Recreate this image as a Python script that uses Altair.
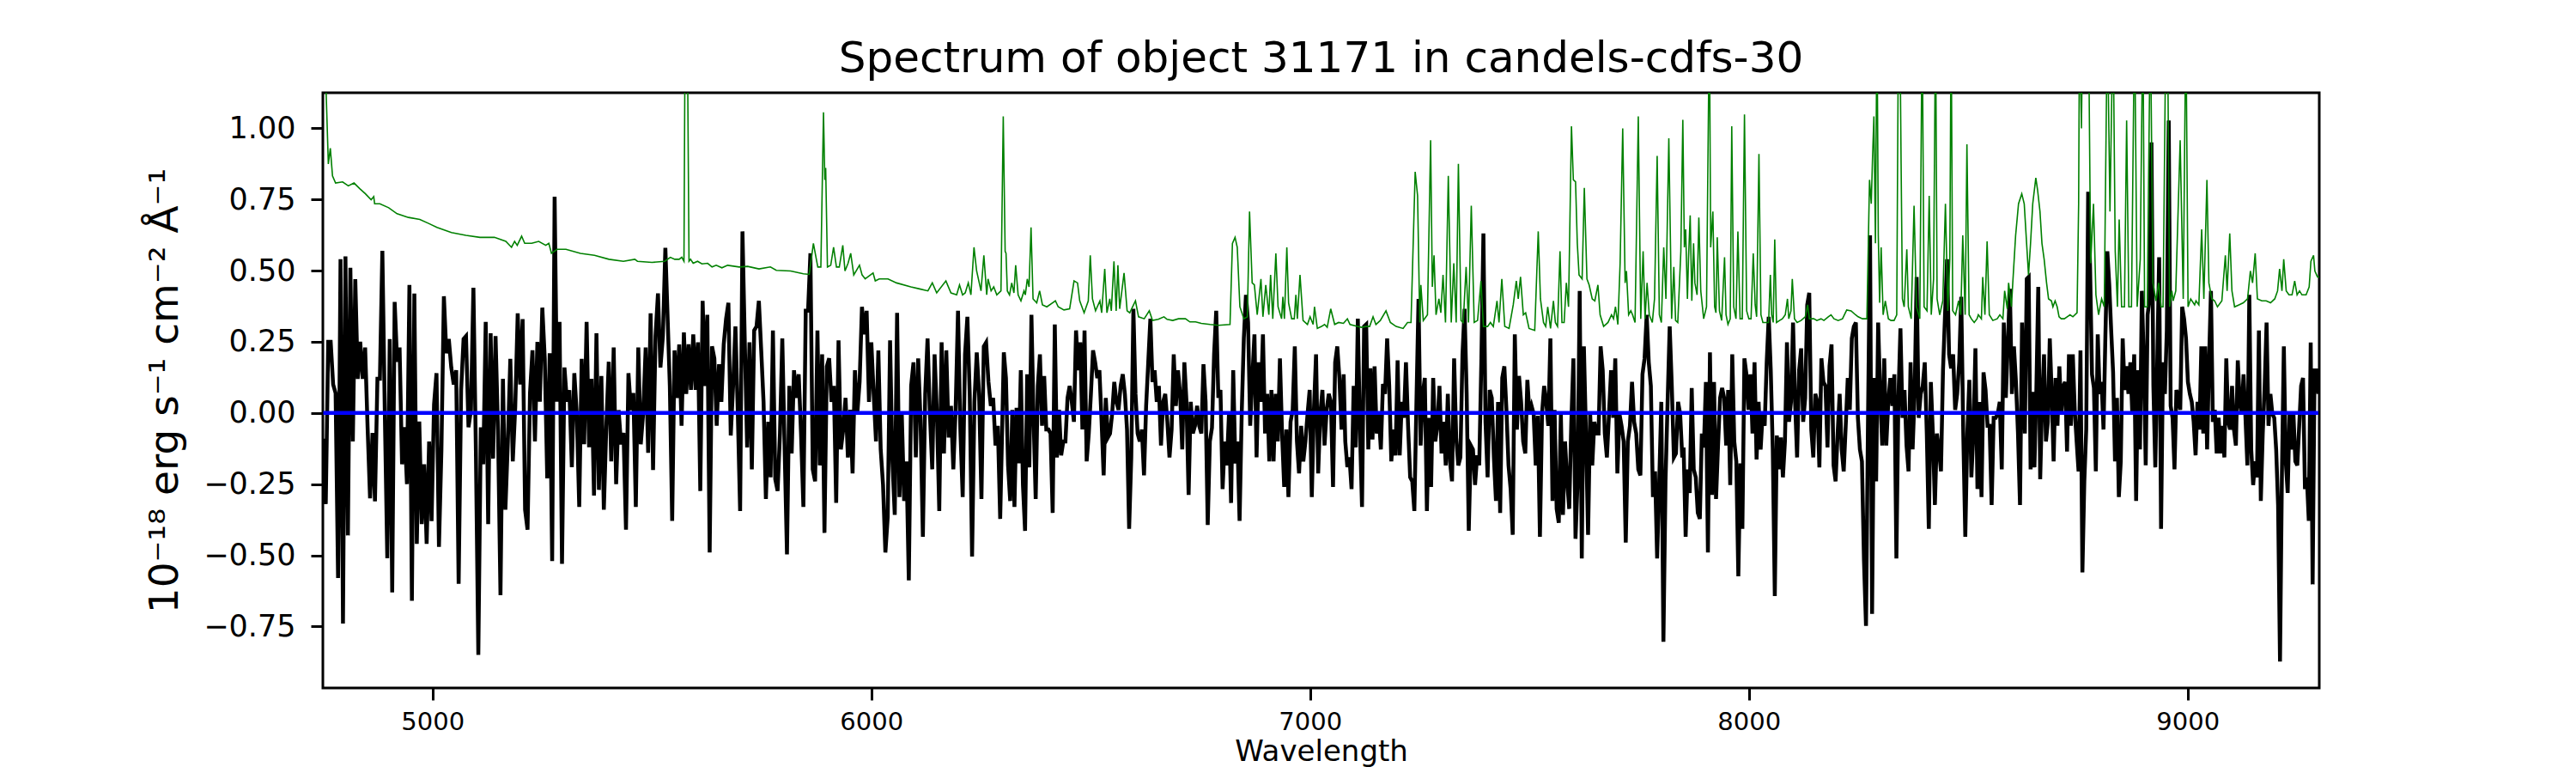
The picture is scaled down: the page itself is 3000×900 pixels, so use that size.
import altair as alt
import pandas as pd
import numpy as np

TITLE = "Spectrum of object 31171 in candels-cdfs-30"
X_LABEL = "Wavelength"
Y_LABEL = "10⁻¹⁸ erg s⁻¹ cm⁻² Å⁻¹"
X_TICKS = [5000, 6000, 7000, 8000, 9000]
Y_TICKS = [-0.75, -0.5, -0.25, 0.0, 0.25, 0.5, 0.75, 1.0]
X_DOMAIN = [4750, 9300]
Y_DOMAIN = [-0.966, 1.125]

# observed flux, read in six wavelength stretches (start, end in Angstrom)
flux_seg_ranges = [(4751, 5530.6), (5540.8, 6293.7), (6302, 7076.5),
                   (7080.2, 7848.2), (7851.3, 8622.6), (8629, 9298)]

flux_seg1 = [-0.09, -0.32, 0.25, 0.25, 0.10, 0.07, -0.58, 0.54, -0.74, 0.55, -0.43, 0.51, -0.10, 0.47, 0.12,
             0.25, 0.12, 0.23, -0.05, -0.30, -0.07, -0.31, 0.12, 0.12, 0.57, 0.00, -0.51, 0.26, -0.63, 0.39,
             0.18, 0.23, -0.18, -0.05, -0.25, 0.45, -0.66, 0.42, -0.46, -0.03, -0.39, -0.18, -0.46, -0.10,
             -0.38, 0.03, 0.14, -0.47, -0.13, 0.41, 0.21, 0.26, 0.16, 0.10, 0.15, -0.60, 0.08, 0.26, 0.27,
             -0.05, 0.01, 0.44, -0.13, -0.85, -0.05, -0.18, 0.32, -0.39, 0.28, -0.16, 0.27, -0.06, -0.64,
             0.12, -0.34, -0.10, 0.19, -0.17, 0.02, 0.35, 0.10, 0.33, -0.34, -0.41, 0.07, 0.22, -0.10, 0.25,
             0.04, 0.37, 0.19, -0.23, 0.21, -0.52, 0.76, 0.04, 0.32, -0.53, 0.16, 0.04, 0.08, -0.19, 0.14,
             0.00, -0.33, 0.19, -0.11, 0.32, -0.12, 0.12, -0.29, 0.28, -0.27, 0.13, -0.34, -0.05, 0.18,
             -0.17, 0.23, -0.25, 0.01, -0.11, -0.07, -0.41, 0.14, 0.01, 0.07, -0.33, 0.23, -0.11, 0.00, 0.23,
             -0.14, 0.35, -0.20, 0.27, 0.42, 0.16, 0.27, 0.58]

flux_seg2 = [0.095, -0.379, 0.22, 0.053, 0.241, -0.045, 0.283, 0.067, 0.241, 0.081, 0.276, 0.081, 0.248,
             -0.274, 0.394, 0.095, 0.345, -0.49, 0.234, 0.192, -0.045, 0.171, 0.039, 0.241, 0.331, 0.387,
             -0.079, 0.095, 0.304, 0.004, -0.344, 0.638, 0.248, -0.121, 0.248, -0.198, 0.29, 0.304, 0.394,
             0.22, 0.039, -0.302, -0.031, -0.226, 0.29, -0.233, -0.274, -0.072, 0.262, -0.128, -0.497, 0.095,
             -0.142, 0.15, 0.053, 0.136, -0.072, -0.33, 0.359, 0.359, 0.561, -0.198, -0.24, 0.29, -0.184,
             0.206, -0.421, 0.164, 0.192, 0.039, 0.095, -0.316, 0.255, -0.128, -0.058, 0.053, -0.156, 0.011,
             -0.212, 0.15, -0.003, 0.109, 0.373, 0.276, 0.359, 0.039, 0.248, 0.067, -0.1, 0.22, -0.128,
             -0.253, -0.49, -0.365, 0.255, -0.17, -0.358, 0.352, -0.295, -0.003, -0.309, -0.17, -0.588,
             0.095, 0.178, -0.156, 0.192, -0.024, -0.435, 0.067, 0.262, -0.003, -0.198, 0.206, -0.003,
             -0.344, 0.248, -0.142, 0.22, -0.086, 0.025, -0.198, 0.018, 0.359, -0.058, -0.295, 0.206, 0.338,
             0.067, -0.504, 0.039, 0.213, 0.067, -0.302, 0.234, 0.248, 0.109, 0.025, 0.053, -0.114, -0.045,
             -0.372]

flux_seg3 = [0.213, 0.123, -0.184, -0.309, 0.011, -0.33, 0.018, -0.177, 0.15, -0.253, -0.414, 0.136, -0.191,
             0.345, -0.017, -0.302, 0.095, 0.206, -0.045, 0.13, -0.058, -0.058, -0.072, -0.351, 0.311, -0.156,
             0.011, -0.149, -0.1, -0.1, 0.053, 0.095, 0.039, -0.031, 0.29, 0.15, 0.248, -0.058, 0.29, -0.17,
             -0.072, 0.067, 0.22, 0.178, 0.123, 0.15, -0.024, -0.219, 0.053, -0.086, -0.072, -0.003, 0.109,
             0.039, 0.011, 0.095, 0.136, 0.067, -0.058, -0.407, -0.156, 0.366, 0.067, -0.072, -0.1, -0.058,
             -0.219, 0.025, 0.178, 0.331, 0.109, 0.15, 0.039, 0.095, -0.114, 0.039, 0.067, -0.031, -0.156,
             -0.058, 0.206, 0.025, 0.15, 0.067, -0.128, 0.178, 0.039, -0.288, 0.039, -0.072, -0.045, 0.025,
             -0.045, -0.072, 0.171, 0.039, -0.393, -0.1, -0.052, 0.206, 0.359, 0.053, 0.081, -0.267, -0.1,
             -0.184, -0.003, -0.316, 0.15, -0.177, -0.1, -0.379, -0.003, 0.262, 0.415, 0.318, -0.045, 0.123,
             0.276, -0.156, 0.178, 0.039, 0.276, -0.072, 0.067, -0.17, 0.081, -0.17, 0.067, -0.1, 0.192,
             -0.072, -0.26, -0.058, -0.295, -0.031, 0.011, 0.234, -0.1, -0.212, -0.045, -0.17, -0.1, -0.003,
             0.081, -0.295, 0.011, 0.206, -0.212, -0.003, 0.081, -0.114, 0.011, 0.067, 0.039, -0.26, 0.178,
             0.234, 0.123, -0.058, 0.136]

flux_seg4 = [-0.10, -0.19, -0.156, -0.267, 0.095, -0.121, 0.331, -0.058, -0.33, 0.304, 0.311, -0.128, 0.157,
             -0.093, 0.164, -0.072, -0.003, -0.128, 0.102, 0.067, 0.262, 0.095, -0.17, -0.058, -0.149, 0.185,
             -0.149, 0.039, -0.017, 0.178, -0.045, -0.226, -0.24, -0.344, 0.039, 0.401, -0.114, 0.067, 0.123,
             -0.344, -0.017, -0.26, 0.123, -0.1, -0.045, 0.095, -0.142, -0.031, -0.184, 0.067, -0.17, -0.24,
             0.192, -0.086, -0.184, -0.156, 0.206, 0.366, 0.067, -0.414, -0.114, -0.128, -0.253, -0.149,
             -0.184, 0.178, 0.631, -0.031, -0.226, 0.081, 0.053, -0.156, -0.309, 0.039, -0.351, 0.123, 0.164,
             0.011, -0.184, -0.267, -0.428, 0.276, -0.058, 0.13, 0.039, -0.1, -0.142, 0.116, -0.003, 0.025,
             -0.003, -0.184, -0.01, -0.435, -0.003, 0.095, 0.039, -0.045, 0.262, -0.309, 0.011, -0.337,
             -0.386, -0.003, -0.358, -0.1, -0.24, -0.337, -0.031, 0.192, -0.442, -0.24, 0.429, -0.511, 0.234,
             -0.072, -0.428, -0.003, -0.184, -0.031, -0.072, -0.072, 0.234, 0.15, -0.072, -0.156, -0.003,
             0.15, -0.017, 0.192, -0.212, -0.003, -0.045, -0.1, -0.455, -0.1, -0.045, 0.109, -0.031, -0.072,
             -0.198, -0.219, 0.136, 0.192, 0.345, 0.178, 0.095, -0.295, -0.205, -0.511, -0.24, 0.039, -0.804,
             -0.24, 0.039, 0.304, 0.095, -0.156, -0.142, 0.039, -0.003, -0.156]

flux_seg5 = [-0.121, -0.435, -0.198, -0.281, 0.088, -0.198, -0.226, -0.351, -0.372, -0.072, -0.121, 0.109,
             -0.49, 0.213, -0.288, 0.109, -0.302, -0.114, 0.053, 0.088, 0.053, -0.114, 0.081, -0.253, 0.206,
             -0.1, -0.17, -0.574, -0.177, -0.407, 0.192, 0.136, 0.011, 0.136, -0.072, 0.178, -0.163, 0.039,
             -0.128, -0.003, -0.045, 0.178, 0.338, 0.15, -0.128, -0.643, -0.079, -0.198, -0.086, -0.226,
             -0.1, 0.248, -0.031, 0.039, 0.318, 0.039, -0.156, 0.15, 0.227, -0.031, 0.053, 0.38, 0.422,
             -0.058, -0.156, 0.067, 0.039, -0.191, 0.192, 0.109, 0.095, -0.121, 0.164, 0.241, -0.184, -0.24,
             -0.072, 0.067, -0.128, -0.205, -0.045, 0.123, 0.011, 0.262, 0.304, 0.318, -0.017, -0.128, -0.17,
             -0.518, -0.748, -0.017, 0.624, -0.706, 0.123, -0.24, 0.318, 0.067, -0.114, 0.192, -0.114, 0.039,
             0.123, 0.025, 0.136, -0.511, 0.053, 0.297, -0.017, 0.081, -0.114, -0.205, 0.178, -0.128, 0.067,
             0.478, -0.017, 0.067, 0.095, 0.178, -0.072, -0.407, 0.109, -0.072, -0.323, -0.072, -0.128,
             -0.205, 0.15, 0.345, 0.54, 0.206, 0.157, 0.206, 0.011, 0.067, 0.178, 0.408, -0.072, -0.435,
             -0.072, 0.116, -0.226, -0.072, 0.227, -0.267, 0.039, -0.295, 0.143, 0.081, -0.045, -0.045,
             -0.323, -0.017, -0.017, -0.003, 0.039, -0.198, 0.318, 0.053, 0.248, 0.436, 0.067, 0.234, 0.109,
             -0.072, -0.323, 0.318]

flux_seg6 = [-0.072, 0.471, 0.478, -0.198, 0.074, -0.191, 0.081, 0.443, -0.233, 0.039, 0.206, -0.1, -0.031,
             0.262, 0.067, -0.17, 0.123, -0.045, 0.164, -0.003, 0.095, 0.109, -0.135, 0.206, -0.045, 0.206,
             0.011, -0.1, -0.205, 0.22, -0.56, -0.24, -0.058, 0.777, 0.513, 0.136, 0.088, -0.205, 0.276,
             0.067, 0.109, -0.058, 0.276, 0.568, 0.45, 0.29, 0.143, -0.17, 0.053, -0.295, -0.17, 0.262, 0.081,
             0.164, 0.067, 0.178, -0.003, 0.206, -0.309, 0.15, -0.128, 0.429, 0.178, -0.184, 0.345, 0.401,
             0.951, 0.095, -0.191, 0.178, 0.547, -0.407, 0.178, 0.067, 0.29, 1.028, 0.025, -0.017, -0.198,
             0.081, 0.053, 0.011, 0.373, 0.331, 0.262, 0.109, 0.067, 0.039, -0.031, -0.149, 0.039, -0.058,
             0.234, -0.072, 0.234, -0.128, 0.178, 0.429, -0.031, 0.011, -0.142, -0.017, -0.142, -0.045,
             -0.156, 0.192, -0.031, -0.058, 0.095, -0.058, -0.114, 0.185, 0.039, -0.003, 0.136, -0.017,
             -0.184, 0.415, -0.128, -0.253, -0.17, -0.226, 0.29, -0.309, -0.072, 0.095, 0.318, -0.045, 0.067,
             -0.003, -0.017, -0.128, -0.323, -0.873, -0.212, 0.234, -0.17, -0.281, -0.003, -0.128, -0.003,
             -0.17, -0.184, -0.045, 0.095, 0.123, -0.267, -0.226, -0.379, 0.248, -0.602, 0.15, 0.15, 0.067]

flux_segments = [flux_seg1, flux_seg2, flux_seg3, flux_seg4, flux_seg5, flux_seg6]

# model (flat at zero)
model_wave = [4751, 9298]
model_flux = [0.0, 0.0]

# error / sky spectrum (green)
err_wave = [4752, 4757, 4762.5, 4767, 4772, 4779, 4795, 4808, 4821, 4834, 4847, 4860, 4866, 4868, 4880, 4900,
            4919, 4945, 4971, 4991, 5010, 5043, 5076, 5108, 5141, 5167, 5180, 5187, 5193, 5203, 5210, 5226,
            5242, 5258, 5265, 5271, 5284, 5304, 5337, 5369, 5402, 5435, 5461, 5467, 5500, 5529,
            5542, 5552, 5562, 5568, 5573, 5576, 5580, 5584.5, 5588, 5594, 5604, 5614, 5627, 5637, 5646.5,
            5659.5, 5672.5, 5699, 5718, 5744, 5770, 5783.5, 5816, 5845, 5858.5, 5868, 5878, 5885, 5891, 5894,
            5896, 5900, 5907.5, 5914, 5920.5, 5927, 5935, 5940, 5947, 5953, 5960, 5973, 5979, 5986, 5992,
            6004, 6009, 6018, 6038, 6057.5, 6090, 6110, 6129, 6139, 6149, 6170, 6181.5, 6194.5, 6201, 6208,
            6214, 6221, 6227, 6234, 6240, 6250, 6256.5, 6263, 6266, 6273, 6279, 6286,
            6295.5, 6300.7, 6305, 6307, 6310, 6315, 6320, 6325, 6329, 6334.6, 6341, 6348, 6351, 6355.5,
            6359.5, 6364, 6368.6, 6377, 6383.6, 6390, 6400, 6413, 6419.5, 6426, 6439, 6452, 6462, 6470, 6475,
            6485, 6494.5, 6499, 6504, 6511, 6521, 6525, 6532, 6537, 6543.5, 6547, 6553, 6558, 6562, 6566,
            6576, 6583, 6589, 6602, 6609, 6622, 6633.5, 6641, 6654, 6667, 6674, 6687, 6700, 6716, 6726, 6739,
            6752, 6772, 6791, 6817.5, 6823, 6829, 6834, 6840, 6849, 6857, 6862, 6868, 6873, 6879.5, 6888,
            6892.5, 6899, 6906, 6910, 6915, 6922, 6927, 6935, 6938, 6941.5, 6947, 6951, 6958, 6964, 6967.6,
            6971, 6977, 6984, 6994, 7000, 7007, 7010, 7016.5, 7026, 7033, 7039, 7047, 7056, 7065, 7076,
            7085, 7091, 7107.6, 7117, 7127, 7135.7, 7143.5, 7150, 7160, 7173, 7183, 7196, 7212, 7222, 7230,
            7239.5, 7245, 7250, 7252.5, 7258, 7267.5, 7274.7, 7278.6, 7282.5, 7287, 7293.6, 7298, 7303,
            7308.6, 7315, 7321.7, 7327.5, 7333, 7338, 7344, 7349, 7355.6, 7361, 7367.4, 7374, 7381.7, 7389.5,
            7395, 7404.5, 7411, 7417.6, 7426, 7430.6, 7437, 7443.7, 7453.5, 7463, 7470, 7474.4, 7479.6, 7486,
            7491.3, 7499, 7512, 7520, 7525, 7532, 7537, 7541.6, 7548, 7554.6, 7559, 7564, 7569.6, 7574, 7579,
            7584, 7589, 7595.7, 7600, 7605, 7609, 7613, 7620, 7625, 7631, 7636, 7643, 7649, 7656, 7661, 7669,
            7679, 7687, 7691.6, 7696, 7701.5, 7706.6, 7712.5, 7718, 7721, 7726, 7731, 7735, 7740.6, 7748,
            7753.6, 7759, 7763.4, 7768, 7773, 7780, 7785, 7791, 7796, 7800.6, 7806, 7811, 7817.6, 7824, 7829,
            7833, 7838, 7845,
            7849.5, 7853, 7856, 7860, 7862.4, 7866.3, 7870, 7874, 7877, 7882, 7886, 7890.4, 7897, 7903.5,
            7910, 7913, 7918, 7922, 7925, 7928, 7933, 7938, 7944.6, 7948, 7952.4, 7957.6, 7961, 7965.5,
            7970.7, 7975, 7980, 7985, 7990, 7995, 8000, 8005, 8010, 8014.4, 8017.7, 8023, 8027.5, 8032,
            8040.5, 8045, 8049, 8052, 8055.5, 8059, 8063, 8070, 8076.4, 8083, 8088, 8091, 8096, 8099, 8104,
            8110, 8119, 8128.6, 8134, 8138, 8148, 8155, 8164.5, 8171, 8181, 8187.3, 8194, 8203.6, 8213.4,
            8223, 8233, 8243, 8249, 8259, 8269, 8275, 8279, 8282, 8285, 8288.5, 8292, 8295, 8298, 8301.5,
            8306, 8311, 8318, 8324, 8331, 8337, 8341, 8344, 8347, 8350, 8354, 8360, 8363.5, 8370, 8376.5,
            8382, 8389.6, 8395, 8399.4, 8406, 8411, 8415.7, 8421, 8425.5, 8429, 8435, 8442, 8448, 8453.5,
            8458, 8461, 8464.6, 8471, 8478, 8483, 8487.5, 8493, 8497, 8502, 8507, 8513.6, 8520, 8523, 8530,
            8533, 8538, 8543, 8548, 8556, 8566, 8572, 8579, 8583, 8589, 8592, 8598.4,
            8601.5, 8608, 8614.6, 8622, 8627.6, 8633, 8637.4, 8642, 8647, 8654, 8658, 8663.5, 8668, 8673,
            8678.5, 8683, 8689.6, 8693, 8698, 8702.7, 8707, 8712, 8719, 8725.5, 8732, 8738.5, 8748, 8751.6,
            8753.6, 8758, 8761, 8766, 8771, 8774, 8779, 8785.5, 8791, 8797, 8804, 8810, 8817, 8823, 8830,
            8835, 8840, 8844, 8849.5, 8856, 8861, 8866, 8872, 8879, 8885, 8892, 8898, 8902, 8908, 8915, 8921,
            8928, 8934, 8939.5, 8944, 8950.6, 8954, 8959, 8964, 8967, 8973, 8983, 8990, 8996, 9001, 9007,
            9016, 9019, 9025.6, 9032, 9037, 9044, 9048.5, 9055, 9061.5, 9068, 9078, 9086, 9090, 9096, 9101,
            9107, 9117, 9127, 9136.6, 9143, 9148, 9154, 9159, 9169, 9179, 9189, 9198.6, 9205, 9209.6, 9215,
            9219, 9224.7, 9231, 9238, 9244, 9249.5, 9255, 9260.6, 9270, 9277, 9281, 9287, 9290, 9296, 9300]

err_flux = [1.5, 1.15, 0.875, 0.93, 0.833, 0.808, 0.812, 0.798, 0.808, 0.788, 0.77, 0.749, 0.76, 0.735, 0.735,
            0.721, 0.70, 0.687, 0.68, 0.666, 0.652, 0.634, 0.624, 0.617, 0.617, 0.603, 0.582, 0.603, 0.589,
            0.621, 0.596, 0.596, 0.603, 0.589, 0.596, 0.561, 0.575, 0.575, 0.561, 0.554, 0.54, 0.533, 0.54,
            0.533, 0.529, 0.533,
            0.547, 0.54, 0.54, 0.547, 0.533, 1.5, 1.5, 0.533, 0.54, 0.526, 0.533, 0.524, 0.526, 0.513, 0.519,
            0.51, 0.519, 0.513, 0.515, 0.506, 0.513, 0.501, 0.499, 0.489, 0.487, 0.596, 0.513, 0.513, 1.056,
            0.819, 0.861, 0.513, 0.519, 0.582, 0.513, 0.513, 0.589, 0.499, 0.526, 0.561, 0.485, 0.519, 0.485,
            0.471, 0.478, 0.492, 0.464, 0.471, 0.471, 0.457, 0.443, 0.436, 0.429, 0.457, 0.422, 0.464, 0.422,
            0.415, 0.45, 0.415, 0.422, 0.457, 0.415, 0.582, 0.499, 0.429, 0.554, 0.415, 0.471, 0.429, 0.443,
            0.415,
            0.429, 1.042, 0.568, 0.561, 0.429, 0.415, 0.457, 0.422, 0.519, 0.415, 0.394, 0.429, 0.415, 0.471,
            0.443, 0.652, 0.401, 0.387, 0.429, 0.38, 0.373, 0.387, 0.394, 0.373, 0.362, 0.366, 0.464, 0.457,
            0.394, 0.352, 0.394, 0.554, 0.401, 0.359, 0.394, 0.352, 0.506, 0.352, 0.401, 0.359, 0.533, 0.359,
            0.519, 0.366, 0.492, 0.359, 0.352, 0.394, 0.338, 0.331, 0.359, 0.325, 0.329, 0.338, 0.329, 0.325,
            0.331, 0.331, 0.32, 0.32, 0.315, 0.311, 0.308, 0.311, 0.596, 0.617, 0.582, 0.373, 0.331, 0.338,
            0.708, 0.457, 0.45, 0.345, 0.471, 0.338, 0.45, 0.345, 0.485, 0.331, 0.561, 0.373, 0.331, 0.408,
            0.331, 0.582, 0.387, 0.331, 0.331, 0.415, 0.331, 0.485, 0.325, 0.311, 0.338, 0.311, 0.373, 0.297,
            0.304, 0.311, 0.301, 0.366, 0.311, 0.318, 0.315,
            0.331, 0.311, 0.304, 0.301, 0.304, 0.304, 0.338, 0.311, 0.325, 0.359, 0.318, 0.304, 0.297, 0.318,
            0.318, 0.847, 0.763, 0.318, 0.45, 0.325, 0.345, 0.958, 0.443, 0.554, 0.345, 0.401, 0.352, 0.485,
            0.318, 0.833, 0.318, 0.526, 0.318, 0.875, 0.325, 0.318, 0.513, 0.318, 0.728, 0.318, 0.325, 0.464,
            0.304, 0.304, 0.318, 0.304, 0.394, 0.318, 0.471, 0.304, 0.297, 0.38, 0.464, 0.401, 0.478, 0.345,
            0.352, 0.297, 0.29, 0.638, 0.401, 0.318, 0.304, 0.373, 0.297, 0.394, 0.318, 0.304, 0.568, 0.318,
            0.318, 0.457, 0.373, 1.007, 0.819, 0.812, 0.596, 0.485, 0.471, 0.791, 0.471, 0.45, 0.401, 0.394,
            0.45, 0.345, 0.304, 0.318, 0.345, 0.331, 0.373, 0.311, 0.526, 1.0, 0.457, 0.499, 0.345, 0.359,
            0.345, 0.318, 1.042, 0.331, 0.568, 0.331, 0.457, 0.345, 0.318, 0.401, 0.903, 0.345, 0.318, 0.582,
            0.401, 0.965, 0.331, 0.513, 0.325, 0.318, 0.568,
            1.03, 0.582, 0.645, 0.401, 0.54, 0.694, 0.394, 0.596, 0.457, 0.415, 0.687, 0.429, 0.331, 0.373,
            1.4, 0.582, 0.708, 0.373, 0.352, 0.617, 0.359, 0.325, 0.547, 0.345, 0.311, 0.331, 1.007, 0.373,
            0.331, 0.638, 0.331, 0.331, 1.049, 0.359, 0.331, 0.331, 0.561, 0.38, 0.338, 0.91, 0.345, 0.318,
            0.318, 0.318, 0.485, 0.345, 0.318, 0.61, 0.318, 0.325, 0.331, 0.345, 0.401, 0.331, 0.359, 0.471,
            0.331, 0.318, 0.325, 0.338, 0.38, 0.331, 0.331, 0.325, 0.331, 0.325, 0.338, 0.345, 0.331, 0.325,
            0.331, 0.362, 0.359, 0.345, 0.338, 0.331, 0.331, 0.819, 0.735, 0.903, 1.042, 0.596, 1.4, 0.624,
            0.387, 0.582, 0.345, 0.394, 0.331, 0.325, 0.325, 0.345, 1.4, 1.4, 0.875, 0.401, 0.373, 0.575,
            0.373, 0.331, 0.728, 0.373, 0.331, 1.4, 0.373, 0.359, 0.763, 0.345, 0.471, 1.4, 0.401, 0.345,
            0.394, 0.735, 0.359, 0.54, 1.4, 0.359, 0.345, 0.394, 0.345, 0.624, 0.345, 0.944, 0.345, 0.331,
            0.318, 0.331, 0.345, 0.331, 0.478, 0.345, 0.603, 0.345, 0.325, 0.331, 0.345, 0.331, 0.429, 0.366,
            0.457, 0.373,
            0.457, 0.624, 0.735, 0.77, 0.735, 0.596, 0.485, 0.596, 0.735, 0.826, 0.784, 0.708, 0.596, 0.54,
            0.457, 0.401, 0.394, 0.373, 0.394, 0.373, 0.338, 0.331, 0.331, 0.338, 0.345, 0.338, 0.352, 0.735,
            1.4, 1.0, 1.4, 1.4, 1.4, 1.4, 0.526, 0.735, 0.415, 0.345, 0.401, 0.373, 1.4, 0.708, 1.4, 0.568,
            0.373, 0.68, 0.373, 0.373, 1.028, 0.373, 0.373, 1.4, 0.373, 0.54, 1.4, 0.373, 0.373, 1.4, 0.457,
            0.394, 0.457, 0.373, 0.373, 1.4, 1.4, 0.373, 0.429, 0.394, 0.429, 0.958, 0.401, 1.4, 0.373, 0.401,
            0.38, 0.394, 0.38, 0.645, 0.401, 0.819, 0.457, 0.401, 0.394, 0.373, 0.394, 0.554, 0.429, 0.631,
            0.429, 0.373, 0.38, 0.387, 0.401, 0.499, 0.457, 0.561, 0.401, 0.394, 0.394, 0.387, 0.401, 0.429,
            0.506, 0.429, 0.54, 0.429, 0.415, 0.415, 0.464, 0.415, 0.429, 0.415, 0.415, 0.443, 0.533, 0.554,
            0.499, 0.478, 0.478]

# ---- assemble tables ----
flux_wave = np.concatenate([np.linspace(a, b, len(s)) for (a, b), s in zip(flux_seg_ranges, flux_segments)])
flux_vals = np.concatenate([np.array(s, dtype=float) for s in flux_segments])
n = min(len(err_wave), len(err_flux))

df_flux = pd.DataFrame({"wave": flux_wave, "flux": flux_vals})
df_model = pd.DataFrame({"wave": model_wave, "flux": model_flux})
df_err = pd.DataFrame({"wave": err_wave[:n], "flux": err_flux[:n]})

FONT = "DejaVu Sans"

x_enc = alt.X("wave:Q",
              scale=alt.Scale(domain=X_DOMAIN, nice=False, zero=False),
              axis=alt.Axis(values=X_TICKS, format="d", title=X_LABEL,
                            labelFontSize=29, titleFontSize=34, titlePadding=3,
                            labelPadding=11, tickSize=14, tickWidth=3))
y_enc = alt.Y("flux:Q",
              scale=alt.Scale(domain=Y_DOMAIN, nice=False, zero=False),
              axis=alt.Axis(values=Y_TICKS, format=".2f", title=Y_LABEL,
                            labelFontSize=35, titleFontSize=47, titlePadding=20,
                            labelPadding=18, tickSize=14, tickWidth=3))

flux_line = alt.Chart(df_flux).mark_line(color="black", strokeWidth=4.5, clip=True).encode(x=x_enc, y=y_enc)
model_line = alt.Chart(df_model).mark_line(color="#0000ff", strokeWidth=4.5, clip=True).encode(x=x_enc, y=y_enc)
err_line = alt.Chart(df_err).mark_line(color="#008000", strokeWidth=1.6, clip=True).encode(x=x_enc, y=y_enc)

chart = alt.layer(flux_line, model_line, err_line).properties(
    width=2325,
    height=693,
    autosize=alt.AutoSizeParams(type="none"),
    padding={"left": 368, "top": 100, "right": 290, "bottom": 92},
    title=alt.TitleParams(TITLE, fontSize=50, font=FONT, fontWeight="normal",
                          color="black", anchor="middle", offset=14),
).configure_view(
    stroke="black", strokeWidth=3
).configure_axis(
    grid=False, domain=False, labelFont=FONT, titleFont=FONT,
    labelColor="black", titleColor="black", tickColor="black",
    titleFontWeight="normal"
)

chart.save("out.html", embed_options={"renderer": "svg", "actions": False})
